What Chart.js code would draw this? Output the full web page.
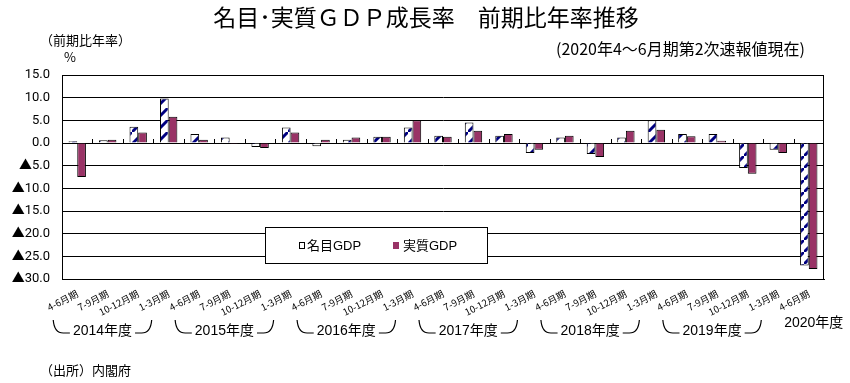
<!DOCTYPE html>
<html>
<head>
<meta charset="utf-8">
<title>名目・実質GDP成長率 前期比年率推移</title>
<script src="https://cdn.jsdelivr.net/npm/chart.js@4.4.1/dist/chart.umd.min.js"></script>
<style>
  body { margin: 0; background: #fff; }
  #container { width: 850px; height: 383px; }
</style>
</head>
<body>
<div id="container"><canvas id="canvas"></canvas></div>
<script>
// quarter labels (fiscal year order)
var QUARTERS = [
  '4-6月期', '7-9月期', '10-12月期', '1-3月期',
  '4-6月期', '7-9月期', '10-12月期', '1-3月期',
  '4-6月期', '7-9月期', '10-12月期', '1-3月期',
  '4-6月期', '7-9月期', '10-12月期', '1-3月期',
  '4-6月期', '7-9月期', '10-12月期', '1-3月期',
  '4-6月期', '7-9月期', '10-12月期', '1-3月期',
  '4-6月期'
];
var FISCAL_YEARS = ['2014年度', '2015年度', '2016年度', '2017年度', '2018年度', '2019年度', '2020年度'];

// 前期比年率 (%)
var NOMINAL = [0.4, 0.6, 3.6, 9.8, 2.0, 1.2, -0.9, 3.4, -0.7, 0.7, 1.4, 3.4, 1.6, 4.5, 1.6, -2.2,
               1.2, -2.4, 1.2, 5.0, 2.0, 2.0, -5.5, -1.5, -27.0];
var REAL    = [-7.5, 0.7, 2.3, 5.8, 0.7, -0.2, -1.1, 2.3, 0.7, 1.2, 1.4, 5.0, 1.4, 2.7, 2.0, -1.5,
               1.6, -3.1, 2.7, 2.9, 1.5, 0.5, -6.8, -2.2, -27.8];

var Y_MIN = -30, Y_MAX = 15, Y_STEP = 5;

var SERIES_NAMES = ['名目GDP', '実質GDP'];
var REAL_COLOR = '#993366';
var JP_FONT = "'Noto Sans CJK JP', sans-serif";

Chart.defaults.font.family = "'Liberation Sans', 'Noto Sans CJK JP', sans-serif";
Chart.defaults.color = '#000';

var ctx = document.getElementById('canvas').getContext('2d');

// white with navy diagonal stripes
function stripes() {
  var c = document.createElement('canvas');
  c.width = 12; c.height = 12;
  var g = c.getContext('2d');
  g.fillStyle = '#fff';
  g.fillRect(0, 0, 12, 12);
  g.strokeStyle = '#000080';
  g.lineWidth = 3;
  g.beginPath();
  g.moveTo(-3, 15); g.lineTo(15, -3);
  g.stroke();
  return ctx.createPattern(c, 'repeat');
}

function jp(size) { return size + "px " + JP_FONT; }

var decorations = {
  id: 'decorations',
  afterDraw: function(chart) {
    var c = chart.ctx, a = chart.chartArea;
    var xs = chart.scales.x, ys = chart.scales.y;
    var y0 = ys.getPixelForValue(0);
    c.save();

    // plot frame
    c.strokeStyle = '#000';
    c.lineWidth = 1;
    c.strokeRect(a.left + 0.5, a.top + 0.5, a.right - a.left - 1, a.bottom - a.top);

    // small ticks on the zero line between categories
    c.beginPath();
    for (var i = 1; i < QUARTERS.length; i++) {
      var bx = Math.round((xs.getPixelForValue(i - 1) + xs.getPixelForValue(i)) / 2) + 0.5;
      c.moveTo(bx, y0);
      c.lineTo(bx, y0 - 4);
    }
    c.stroke();

    // titles
    c.fillStyle = '#000';
    c.textBaseline = 'middle';
    c.textAlign = 'center';
    c.font = jp(23);
    c.fillText('名目･実質ＧＤＰ成長率　前期比年率推移', 426, 17);
    c.textAlign = 'left';
    c.font = jp(13);
    c.fillText('（前期比年率）', 40, 40);
    c.fillText('%', 64, 57);
    c.fillText('（出所）内閣府', 40, 370);
    c.textAlign = 'right';
    c.font = jp(16);
    c.fillText('(2020年4～6月期第2次速報値現在)', 805, 49);

    // fiscal year brackets
    c.lineWidth = 1.2;
    c.font = "14px 'Liberation Sans', " + JP_FONT;
    c.textAlign = 'center';
    for (var g = 0; g < FISCAL_YEARS.length; g++) {
      var first = g * 4, last = Math.min(g * 4 + 3, QUARTERS.length - 1);
      if (last === first) {
        c.fillText(FISCAL_YEARS[g], xs.getPixelForValue(first) + 5, 323);
        continue;
      }
      var xL = xs.getPixelForValue(first) - 24;
      var xR = xs.getPixelForValue(last) - 17;
      var mid = (xL + xR) / 2;
      var tw = c.measureText(FISCAL_YEARS[g]).width;
      c.fillText(FISCAL_YEARS[g], mid, 331);
      c.beginPath();
      c.moveTo(xL, 320);
      c.quadraticCurveTo(xL + 1, 333, xL + 10, 333);
      c.lineTo(mid - tw / 2 - 3, 333);
      c.moveTo(mid + tw / 2 + 3, 333);
      c.lineTo(xR - 10, 333);
      c.quadraticCurveTo(xR - 1, 333, xR, 320);
      c.stroke();
    }

    // legend box
    c.fillStyle = '#fff';
    c.fillRect(265, 227, 223, 37);
    c.lineWidth = 1;
    c.strokeRect(265.5, 227.5, 222, 36);
    c.fillStyle = '#fff';
    c.fillRect(299, 242, 5, 6);
    c.strokeRect(299.5, 242.5, 5, 6);
    c.fillStyle = REAL_COLOR;
    c.fillRect(393, 242, 6, 7);
    c.fillStyle = '#000';
    c.textAlign = 'left';
    c.font = "13px 'Liberation Sans', " + JP_FONT;
    c.fillText(SERIES_NAMES[0], 307, 246);
    c.fillText(SERIES_NAMES[1], 403, 246);

    c.restore();
  }
};

new Chart(ctx, {
  type: 'bar',
  data: {
    labels: QUARTERS,
    datasets: [
      { label: SERIES_NAMES[0], data: NOMINAL, backgroundColor: stripes(), borderColor: '#000', borderWidth: 1 },
      { label: SERIES_NAMES[1], data: REAL, backgroundColor: REAL_COLOR, borderColor: '#000', borderWidth: 1 }
    ]
  },
  options: {
    responsive: true,
    maintainAspectRatio: false,
    animation: false,
    layout: { padding: { top: 75, right: 26, left: 0, bottom: 0 } },
    datasets: { bar: { barPercentage: 1.0, categoryPercentage: 0.57 } },
    plugins: { legend: { display: false }, tooltip: { enabled: false } },
    scales: {
      x: {
        grid: { display: false },
        border: { display: true, color: '#000' },
        ticks: {
          autoSkip: false, minRotation: 27, maxRotation: 27, padding: 1,
          font: { size: 9.5, family: JP_FONT }
        },
        afterFit: function(s) { s.height = 104; }
      },
      y: {
        min: Y_MIN, max: Y_MAX,
        grid: { color: '#000', lineWidth: 1, drawTicks: false },
        border: { display: true, color: '#000' },
        ticks: {
          stepSize: Y_STEP, padding: 12,
          font: { size: 13, family: "Roboto, 'Noto Sans CJK JP', sans-serif" },
          callback: function(v) { return v < 0 ? '▲' + Math.abs(v).toFixed(1) : v.toFixed(1); }
        },
        afterFit: function(s) { s.width = 62; }
      }
    }
  },
  plugins: [decorations]
});
</script>
</body>
</html>
